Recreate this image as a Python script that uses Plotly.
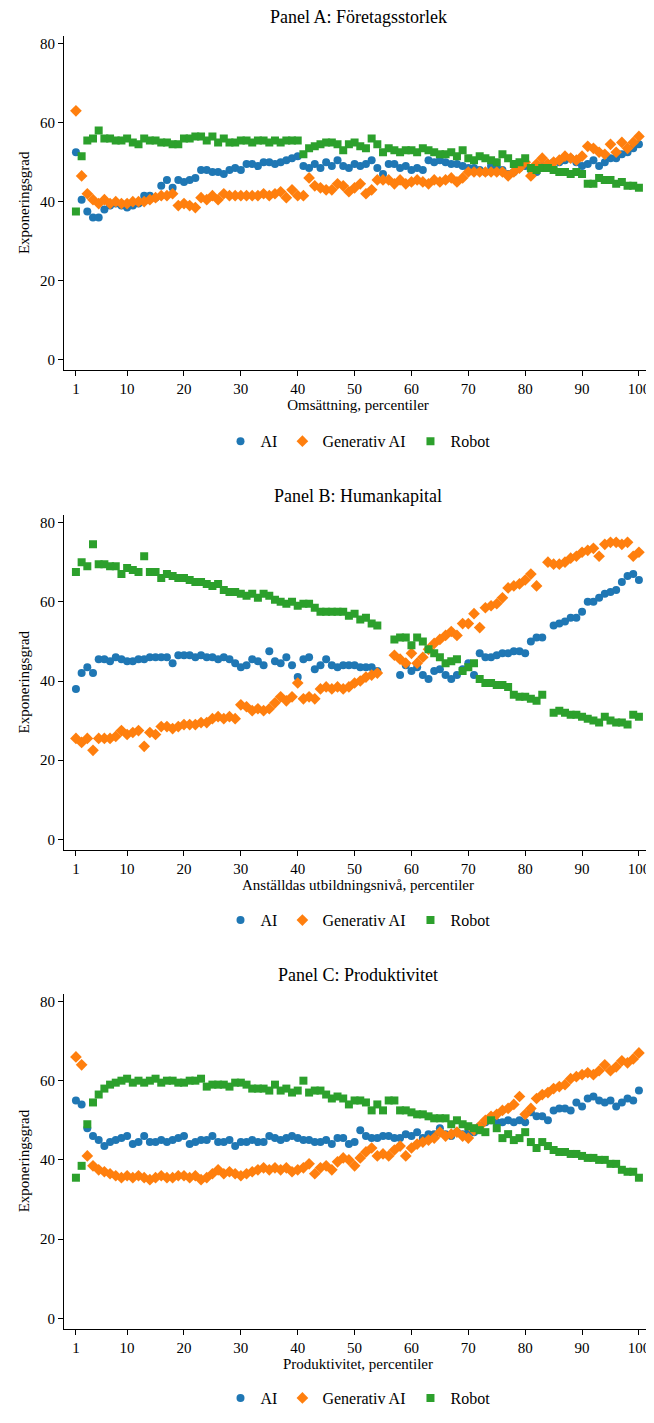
import plotly.graph_objects as go

x = list(range(1, 101))
N = None

ai_a = [52.5,40.5,37.5,36,36,38,39,39.5,39,38.5,
        39,39.5,41.5,41.5,41,44,45.5,43.5,45.5,45,
        45.5,46,48,48,47.5,47.5,47,48,48.5,48,
        49.5,49.5,49,50,50,49.5,50,50.5,51,51.5,
        49,48.5,49.5,48.5,50,49,50.5,49,48.5,49.5,
        49,49.5,50.5,48.5,47,49.5,49.5,48.5,49,48,
        48.5,48,50.5,50,50.5,50,49.5,49.5,49,48.5,
        48.5,48,47.5,49,48.5,48,47,47.5,48.5,49,
        48,47.5,49,49.5,50,50,50.5,51,50,49,
        49.5,50.5,49,50,51,51,52,52.5,53.5,54.5]
gen_a = [63,46.5,42,40.5,39.5,40.5,39.5,40,39.5,39.5,
         40,40,40,40.5,41,41.5,41.5,42,39,39.5,
         39,38.5,41,40.5,41.5,40.5,42,41.5,41.5,41.5,
         41.5,41.5,41.5,42,41.5,42,42.5,41,43,41.5,
         41.5,46,44,43.5,43,43,44.5,44,42.5,43.5,
         44.5,42,43,45.5,45.5,45.5,44.5,45.5,44.5,45,
         45.5,45,44.5,45.5,45,45.5,46,45,46,47.5,
         47.5,47.5,47.5,47.5,47.5,47.5,46.5,47.5,48.5,50,
         46.5,49.5,51,49.5,50,50.5,51.5,51,50.5,51.5,
         54,53.5,52.5,52,54.5,52.5,55,53.5,55,56.5]
rob_a = [37.5,51.5,55.5,56,58,56,56,55.5,55.5,56,
         55,54.5,56,55.5,55.5,55,55,54.5,54.5,56,
         56,56.5,56.5,55.5,56.5,55,56,55,55,55.5,
         55.5,55,55.5,55.5,55,55.5,55,55.5,55.5,55.5,
         52,53.5,54,54.5,55,55,54.5,53,54.5,55,
         54,53.5,56,54.5,52.5,53.5,53,52.5,53,53,
         52.5,53.5,53,52.5,52,52,52.5,51.5,53,51,
         50.5,51.5,51,50.5,50,52,51,49.5,50,51,
         48.5,48,48.5,48.5,48,47.5,47.5,47,47.5,47,
         44.5,44.5,46,45.5,45.5,44.5,45,44,44,43.5]

ai_b = [38,42,43.5,42,45.5,45.5,45,46,45.5,45,
        45,45.5,45.5,46,46,46,46,44.5,46.5,46.5,
        46.5,46,46.5,46,46,45.5,46,45.5,44.5,43.5,
        44,45.5,45,44,47.5,45,44.5,46,44,41,
        45.5,46,43,44,45.5,44,43.5,44,44,44,
        43.5,43.5,43.5,42.5,N,N,N,41.5,44,42.5,
        43.5,41.5,40.5,42.5,43,41.5,40.5,41.5,43,44.5,
        41.5,47,46,46,46.5,47,47,47.5,47.5,47,
        50,51,51,N,54,54.5,55,56,56,57.5,
        60,60,61,62,62.5,63,65,66.5,67,65.5]
gen_b = [25.5,24.5,25.5,22.5,25.5,25.5,25.5,26,27.5,26.5,
         27,27.5,23.5,27,26.5,28.5,28.5,28,28.5,29,
         29,29,29.5,29.5,30.5,31,30.5,31,30.5,34,
         33.5,32.5,33,32.5,33,34.5,36,35,36,39.5,
         35.5,36,35.5,38,38.5,38,38.5,38,38.5,39.5,
         40,41,41.5,42,N,N,46.5,45.5,44.5,47,
         44.5,46,48,49.5,50.5,51.5,52.5,51.5,54.5,54.5,
         57,53.5,58.5,59,59.5,61,63.5,64,64.5,65.5,
         67,64,N,70,69.5,69.5,70,71,71.5,72.5,
         73,73.5,71.5,74.5,75,75,74.5,75,71.5,72.5]
rob_b = [67.5,70,69,74.5,69.5,69.5,69,69,67,68.5,
         68,67.5,71.5,67.5,67.5,66,67,66.5,66,66,
         65.5,65,65,64.5,64,64.5,63,62.5,62.5,62,
         61.5,62,61,62,61.5,60.5,60,59.5,60,59,
         59.5,59.5,58.5,57.5,57.5,57.5,57.5,57.5,56.5,57,
         55.5,56,54.5,54,N,N,50.5,51,51,49,
         51,50,48,47,46,44.5,45,45.5,42.5,43.5,
         44.5,40.5,39.5,39.5,39,39,38.5,36.5,36,36,
         35.5,35,36.5,N,32,32.5,32,31.5,31.5,31,
         30.5,30,29.5,31,30,29.5,29.5,29,31.5,31]

ai_c = [55,54,48,46,45,43.5,44.5,45,45.5,46,
        44,44.5,46,44.5,44.5,45,44.5,45,45.5,46,
        44,44.5,45,45,46,44.5,44.5,45,43.5,44.5,
        44.5,45,44.5,44.5,46,45.5,45,45.5,46,45.5,
        45,45,44.5,44.5,45,44,45.5,45.5,44,44.5,
        47.5,46,45.5,45.5,46,46,45.5,45.5,46.5,46,
        47,45.5,46.5,46.5,48,46.5,46,47,46.5,47,
        47,48.5,49.5,50,49.5,49.5,50,49.5,50,49.5,
        52,51,51,50,52.5,53,53,52.5,54.5,53.5,
        55.5,56,55,54.5,55,53.5,54.5,55.5,55,57.5]
gen_c = [66,64,41,38.5,37.5,37,36.5,36,35.5,36,
         35.5,36,35.5,35,35.5,36,35.5,35.5,36,36,
         35.5,36,35,35.5,36.5,37.5,36.5,37,36.5,36,
         36.5,37,37.5,38,37.5,38,37.5,38,37,37.5,
         38,39,36.5,38,38.5,37.5,39.5,40.5,40,38.5,
         40.5,42,43,41,41.5,41,42.5,43.5,41,43,
         44,44.5,45,45.5,47,46,46.5,47,46,45.5,
         47.5,48.5,50,51,51.5,52.5,53,54,56,51.5,
         53,55.5,56.5,57,58,58.5,59,60.5,61,61.5,
         62,61.5,62.5,64,62.5,63.5,65,64.5,65.5,67]
rob_c = [35.5,38.5,49,54.5,56.5,58,59,59.5,60,60.5,
         59.5,60,59.5,60,60.5,59.5,60,60,59.5,59.5,
         60,60,60.5,58.5,59,59,59,58.5,59.5,59.5,
         59,58,58,58,57.5,59,57.5,58,57,57.5,
         60,57,57.5,57.5,56.5,55.5,56,55.5,54,55,
         55,54.5,52.5,54,52.5,55,55,52.5,52.5,52,
         51.5,51.5,51,50.5,50.5,50.5,49,50,49,48.5,
         48,47.5,47,50,48,45.5,46.5,45,45.5,47,
         44.5,43,44.5,43.5,42.5,42,42,41.5,41.5,41,
         40.5,40.5,40,40,39,39,37.5,37,37,35.5]

panels = [
    ("Panel A: Företagsstorlek", "Omsättning, percentiler", ai_a, gen_a, rob_a),
    ("Panel B: Humankapital", "Anställdas utbildningsnivå, percentiler", ai_b, gen_b, rob_b),
    ("Panel C: Produktivitet", "Produktivitet, percentiler", ai_c, gen_c, rob_c),
]
series_names = ["AI", "Generativ AI", "Robot"]
colors = ["#1f77b4", "#ff7f0e", "#2ca02c"]
symbols = ["circle", "diamond", "square"]
xticks = [1, 10, 20, 30, 40, 50, 60, 70, 80, 90, 100]
yticks = [0, 20, 40, 60, 80]

OFF = 8  # page body margin
H = 1423 - 2 * OFF
areas = [(36, 373), (519, 857), (1002, 1340)]
legend_y = [445, 928, 1410]
title_y = [17, 500, 983]
font = "Liberation Serif"

fig = go.Figure()
annotations = []
for i, (title, xt, a, g, r) in enumerate(panels):
    sfx = "" if i == 0 else str(i + 1)
    leg = "legend" + sfx
    for name, vals, c, s in zip(series_names, (a, g, r), colors, symbols):
        fig.add_trace(go.Scatter(x=x, y=vals, mode="markers", name=name,
                                 marker=dict(color=c, symbol=s, size=8 if s != "diamond" else 9),
                                 xaxis="x" + sfx, yaxis="y" + sfx, legend=leg))
    top, bot = areas[i]
    dom = [1 - (bot - OFF) / H, 1 - (top - OFF) / H]
    axstyle = dict(showline=True, linecolor="black", linewidth=1, ticks="outside",
                   ticklen=5, tickcolor="black", showgrid=False, zeroline=False,
                   tickfont=dict(family=font, size=15, color="black"))
    fig.layout["xaxis" + sfx] = dict(domain=[0, 1], range=[-1.1, 102.3], tickvals=xticks,
                                     anchor="y" + sfx,
                                     title=dict(text=xt, font=dict(family=font, size=15, color="black"), standoff=2),
                                     **axstyle)
    fig.layout["yaxis" + sfx] = dict(domain=dom, range=[-2.6, 82], tickvals=yticks,
                                     anchor="x" + sfx,
                                     title=dict(text="Exponeringsgrad", font=dict(family=font, size=15, color="black"), standoff=6),
                                     **axstyle)
    fig.layout[leg] = dict(orientation="h", x=0.5, xanchor="center",
                           y=1 - (legend_y[i] - OFF) / H, yanchor="middle",
                           font=dict(family=font, size=16, color="black"),
                           bgcolor="rgba(0,0,0,0)", itemwidth=30)
    annotations.append(dict(text=title, x=0.5, xref="paper", xanchor="center",
                            y=1 - (title_y[i] - OFF) / H, yref="paper", yanchor="middle",
                            showarrow=False, font=dict(family=font, size=18, color="black")))

fig.update_layout(width=646, height=H, margin=dict(l=56, r=2, t=0, b=0),
                  plot_bgcolor="white", paper_bgcolor="white",
                  annotations=annotations, font=dict(family=font))
fig.write_html("out.html")
